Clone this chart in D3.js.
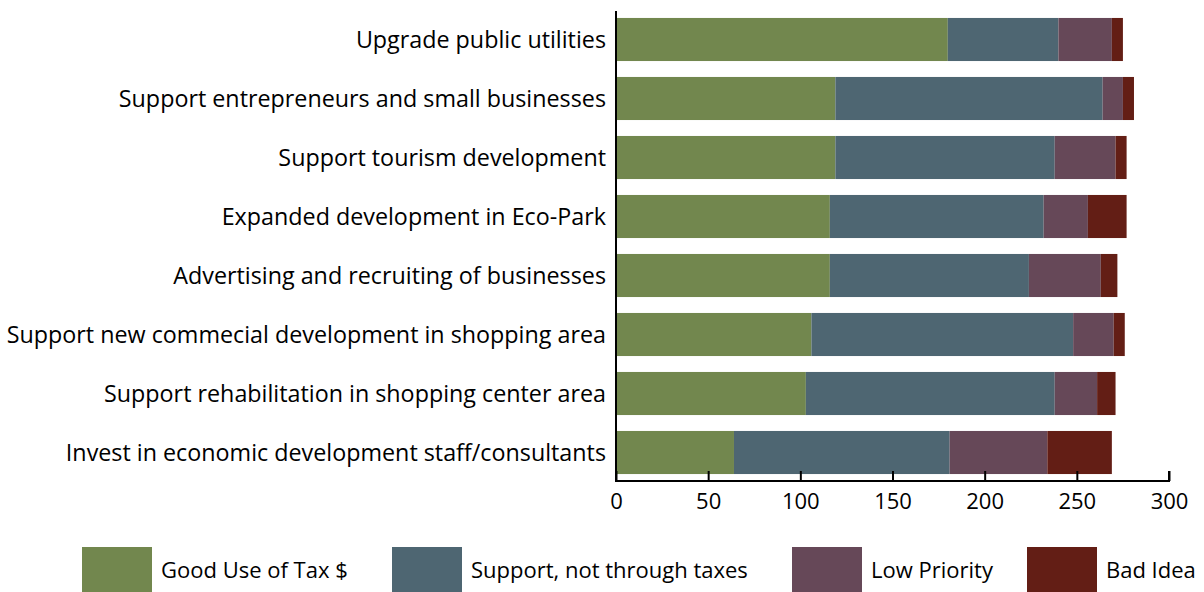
<!DOCTYPE html>
<html>
<head>
<meta charset="utf-8">
<script src="https://cdn.jsdelivr.net/npm/d3@7"></script>
<style>
  html, body { margin: 0; padding: 0; background: #fff; }
  svg { display: block; }
  text { font-family: "Open Sans", Lato, sans-serif; fill: #000; }
</style>
</head>
<body>
<svg id="chart" width="1204" height="592"></svg>
<script>
const categories = [
  "Upgrade public utilities",
  "Support entrepreneurs and small businesses",
  "Support tourism development",
  "Expanded development in Eco-Park",
  "Advertising and recruiting of businesses",
  "Support new commecial development in shopping area",
  "Support rehabilitation in shopping center area",
  "Invest in economic development staff/consultants"
];
const seriesNames = ["Good Use of Tax $", "Support, not through taxes", "Low Priority", "Bad Idea"];
const goodUse   = [180, 119, 119, 116, 116, 106, 103, 64];
const supportNT = [60, 145, 119, 116, 108, 142, 135, 117];
const lowPrio   = [29, 11, 33, 24, 39, 22, 23, 53];
const badIdea   = [6, 6, 6, 21, 9, 6, 10, 35];
const xTicks = [0, 50, 100, 150, 200, 250, 300];
const colors = ["#72874e", "#4e6672", "#664858", "#631e15"];

const svg = d3.select("#chart");
const x0 = 616, x1 = 1169, yTop = 11, yBot = 481;

const rows = categories.map((c, i) => ({
  cat: c,
  "Good Use of Tax $": goodUse[i],
  "Support, not through taxes": supportNT[i],
  "Low Priority": lowPrio[i],
  "Bad Idea": badIdea[i]
}));
const stacked = d3.stack().keys(seriesNames)(rows);

const x = d3.scaleLinear().domain([0, 300]).range([x0, x1]);
const y = d3.scaleBand().domain(categories).range([yTop, yBot]).paddingInner(0.27).paddingOuter(0.118);
const color = d3.scaleOrdinal().domain(seriesNames).range(colors);

svg.append("g").selectAll("g")
  .data(stacked).join("g")
  .attr("fill", d => color(d.key))
  .selectAll("rect")
  .data(d => d).join("rect")
  .attr("x", d => x(d[0]))
  .attr("width", d => x(d[1]) - x(d[0]))
  .attr("y", d => y(d.data.cat))
  .attr("height", y.bandwidth());

// left axis line
svg.append("line")
  .attr("x1", x0).attr("x2", x0).attr("y1", yTop).attr("y2", yBot)
  .attr("stroke", "#000").attr("stroke-width", 2);

// category labels
svg.append("g").selectAll("text")
  .data(categories).join("text")
  .attr("x", x0 - 10)
  .attr("y", d => y(d) + y.bandwidth() / 2)
  .attr("dy", "0.35em")
  .attr("text-anchor", "end")
  .attr("font-size", 23.3)
  .text(d => d);

// bottom axis with inward ticks
const xAxis = d3.axisBottom(x).tickValues(xTicks).tickSize(-10).tickPadding(22).tickFormat(d3.format("d"));
const gx = svg.append("g").attr("transform", `translate(0,${yBot})`).call(xAxis);
gx.select(".domain").attr("stroke", "#000").attr("stroke-width", 2).attr("d", `M${x0},-10V0H${x1}V-10`);
gx.selectAll(".tick line").attr("stroke", "#000").attr("stroke-width", 2);
gx.selectAll(".tick text").attr("font-size", 22).attr("font-family", "'Open Sans', Lato, sans-serif").attr("fill", "#000").attr("dy", "0.35em").attr("y", 20);

// legend
const legendPos = [82, 392, 792, 1027];
const lg = svg.append("g").selectAll("g")
  .data(seriesNames).join("g")
  .attr("transform", (d, i) => `translate(${legendPos[i]},547)`);
lg.append("rect").attr("width", 70).attr("height", 45).attr("fill", d => color(d));
lg.append("text").attr("x", 79).attr("y", 23).attr("dy", "0.35em").attr("font-size", 22).text(d => d);
</script>
</body>
</html>
